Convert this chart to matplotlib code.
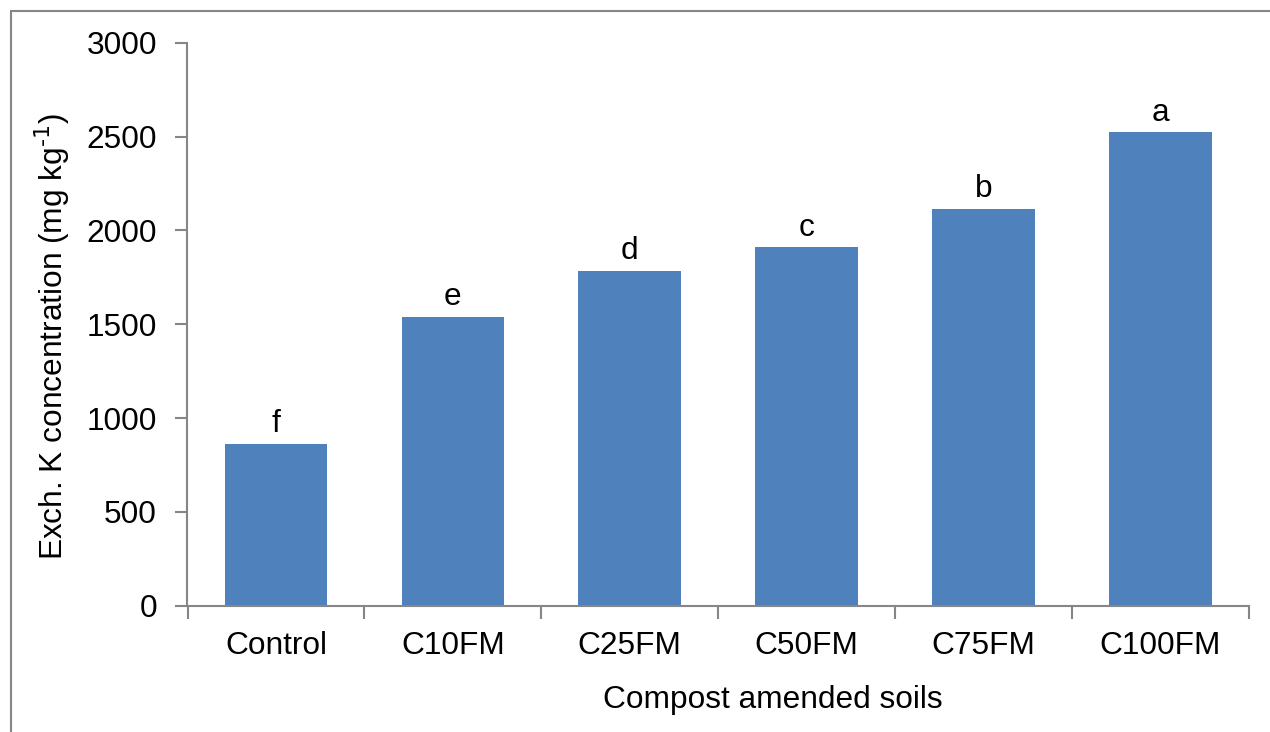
import matplotlib
matplotlib.use("Agg")
import matplotlib.pyplot as plt
from matplotlib.patches import Rectangle

categories = ["Control", "C10FM", "C25FM", "C50FM", "C75FM", "C100FM"]
values = [862, 1538, 1783, 1910, 2114, 2522]
letters = ["f", "e", "d", "c", "b", "a"]
yticks = [0, 500, 1000, 1500, 2000, 2500, 3000]

plt.rcParams['font.family'] = ['Liberation Sans', 'DejaVu Sans']
FS = 22.8

W, H = 1270, 732
fig = plt.figure(figsize=(W/100, H/100), dpi=100)
# outer chart border (right/bottom run off the image)
fig.patches.append(Rectangle((11/W, -0.1), 1.2, 1 - 11/H + 0.1, transform=fig.transFigure,
                             fill=False, edgecolor='#868686', linewidth=1.5))

left, right, bottom, top = 187.5, 1249, 605.7, 42.7
ax = fig.add_axes([left/W, 1 - bottom/H, (right-left)/W, (bottom-top)/H])

x = list(range(len(categories)))
bars = ax.bar(x, values, width=0.58, color='#4F81BD', zorder=2)
for xi, v, l in zip(x, values, letters):
    ax.text(xi, v + 25, l, ha='center', va='bottom', fontsize=FS)

ax.set_xlim(-0.5, len(categories) - 0.5)
ax.set_ylim(0, 3000)
ax.set_yticks(yticks)
ax.set_yticklabels([str(t) for t in yticks], fontsize=FS)
ax.set_xticks(x)
ax.set_xticklabels(categories, fontsize=FS)
ax.tick_params(axis='x', length=0, pad=18)
ax.set_xticks([i - 0.5 for i in range(len(categories) + 1)], minor=True)
ax.tick_params(axis='x', which='minor', length=9, width=1.5, color='#868686', direction='out')
ax.tick_params(axis='y', length=9, width=1.5, color='#868686', direction='out', pad=13)

for s in ['top', 'right']:
    ax.spines[s].set_visible(False)
for s in ['left', 'bottom']:
    ax.spines[s].set_color('#868686')
    ax.spines[s].set_linewidth(1.5)

ax.set_xlabel("Compost amended soils", fontsize=FS)
ax.xaxis.set_label_coords((773 - left) / (right - left), -(700 - bottom) / (bottom - top),
                          transform=ax.transAxes)
ax.xaxis.label.set_verticalalignment('center')
ax.set_ylabel(r"Exch. K concentration (mg kg$^{\text{-1}}$)", fontsize=FS)
ax.yaxis.set_label_coords(-(187.5 - 52) / (right - left), (bottom - 337) / (bottom - top),
                          transform=ax.transAxes)
ax.yaxis.label.set_verticalalignment('center')

fig.savefig("out.png", dpi=100)
